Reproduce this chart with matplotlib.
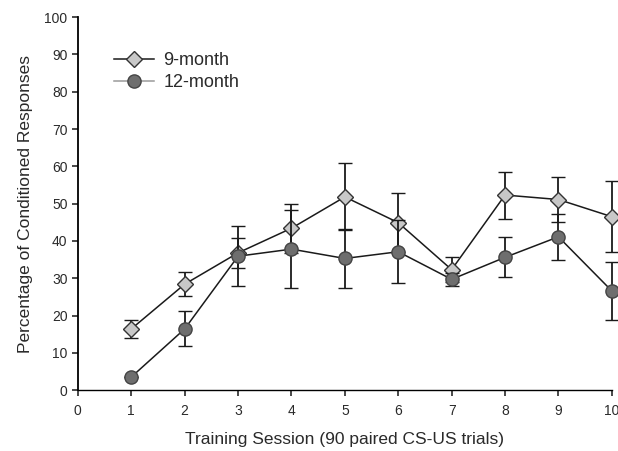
import matplotlib
matplotlib.use("Agg")
import matplotlib.pyplot as plt
from matplotlib.lines import Line2D

plt.rcParams['font.family'] = ['Liberation Sans', 'DejaVu Sans']

sessions = [1, 2, 3, 4, 5, 6, 7, 8, 9, 10]
m9 = [16.4, 28.4, 36.8, 43.4, 51.8, 44.9, 32.3, 52.3, 51.1, 46.5]
m9_err = [2.5, 3.3, 4.0, 6.6, 9.0, 8.0, 3.3, 6.3, 6.0, 9.5]
m12 = [3.5, 16.4, 35.9, 37.8, 35.3, 37.1, 29.7, 35.6, 41.1, 26.6]
m12_err = [0.0, 4.7, 8.0, 10.4, 8.0, 8.5, 1.8, 5.4, 6.2, 7.8]
xticks = [0, 1, 2, 3, 4, 5, 6, 7, 8, 9, 10]
yticks = [0, 10, 20, 30, 40, 50, 60, 70, 80, 90, 100]

fig = plt.figure(figsize=(6.18, 4.51), dpi=100)
ax = fig.add_axes([0.126, 0.135, 0.864, 0.827])

tc = '#2a2a2a'
ax.errorbar(sessions, m9, yerr=m9_err, color='#1a1a1a', lw=1.1, capsize=5, elinewidth=1.3,
            capthick=1.3, marker='D', ms=8, mfc='#c8c8c8', mec='#333333', mew=1.0,
            clip_on=False, zorder=3)
ax.errorbar(sessions, m12, yerr=m12_err, color='#1a1a1a', lw=1.1, capsize=5, elinewidth=1.3,
            capthick=1.3, marker='o', ms=9.5, mfc='#6e6e6e', mec='#444444', mew=1.0,
            clip_on=False, zorder=4)

ax.set_xlim(0, 10)
ax.set_ylim(0, 100)
ax.set_xticks(xticks)
ax.set_yticks(yticks)
ax.spines['top'].set_visible(False)
ax.spines['right'].set_visible(False)
ax.spines['left'].set_linewidth(1.3)
ax.spines['bottom'].set_linewidth(1.0)
ax.tick_params(axis='both', direction='out', length=4, width=1.2, colors=tc, labelsize=10)
ax.tick_params(axis='x', pad=6)

ax.set_xlabel('Training Session (90 paired CS-US trials)', fontsize=12.5, color=tc, labelpad=10)
ax.set_ylabel('Percentage of Conditioned Responses', fontsize=12.5, color=tc, labelpad=8)

h9 = Line2D([], [], color='#1a1a1a', lw=1.1, marker='D', ms=8, mfc='#c8c8c8', mec='#333333', mew=1.0)
h12 = Line2D([], [], color='#9a9a9a', lw=1.1, marker='o', ms=9.5, mfc='#6e6e6e', mec='#444444', mew=1.0)
leg = ax.legend([h9, h12], ['9-month', '12-month'], loc='upper left',
                bbox_to_anchor=(0.038, 0.95), frameon=False, fontsize=13,
                handlelength=2.2, labelspacing=0.3, handletextpad=0.5)
for t in leg.get_texts():
    t.set_color(tc)

fig.savefig('out.png', dpi=100)
